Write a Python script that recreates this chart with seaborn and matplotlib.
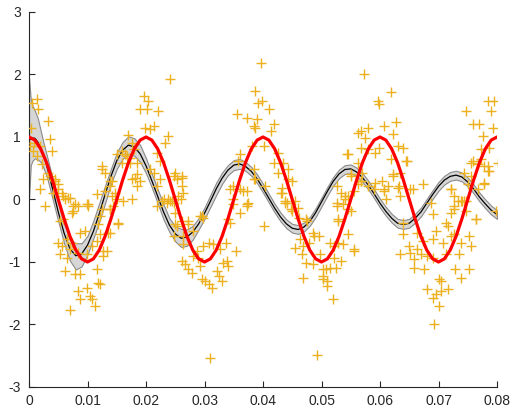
import numpy as np
import pandas as pd
import matplotlib
matplotlib.use('Agg')
import matplotlib.pyplot as plt
import seaborn as sns

sns.set_style('ticks')
plt.rcParams['font.family'] = ['Liberation Sans', 'DejaVu Sans']

# true signal, sampled every 1 ms
red_t_ms = list(range(0, 81))
red_y = [1.0, 0.95, 0.81, 0.59, 0.31, 0.0, -0.31, -0.59, -0.81, -0.95,
         -1.0, -0.95, -0.81, -0.59, -0.31, 0.0, 0.31, 0.59, 0.81, 0.95,
         1.0, 0.95, 0.81, 0.59, 0.31, 0.0, -0.31, -0.59, -0.81, -0.95,
         -1.0, -0.95, -0.81, -0.59, -0.31, 0.0, 0.31, 0.59, 0.81, 0.95,
         1.0, 0.95, 0.81, 0.59, 0.31, 0.0, -0.31, -0.59, -0.81, -0.95,
         -1.0, -0.95, -0.81, -0.59, -0.31, 0.0, 0.31, 0.59, 0.81, 0.95,
         1.0, 0.95, 0.81, 0.59, 0.31, 0.0, -0.31, -0.59, -0.81, -0.95,
         -1.0, -0.95, -0.81, -0.59, -0.31, 0.0, 0.31, 0.59, 0.81, 0.95,
         1.0]

# fitted mean and band
mean_t_ms = [0, 0.3, 0.6, 1, 1.5, 2, 2.5, 3] + list(range(4, 81))
mean_y = [0.95, 0.97, 0.98, 0.98, 0.92, 0.83, 0.70, 0.55,
          0.18, -0.20, -0.54, -0.79, -0.90,
          -0.87, -0.73, -0.51, -0.23, 0.08, 0.37, 0.62, 0.79, 0.87,
          0.84, 0.73, 0.54, 0.30, 0.05, -0.20, -0.41, -0.55, -0.62,
          -0.60, -0.52, -0.39, -0.22, -0.03, 0.17, 0.34, 0.47, 0.55, 0.57,
          0.53, 0.45, 0.33, 0.18, 0.02, -0.14, -0.28, -0.39, -0.46, -0.48,
          -0.44, -0.35, -0.21, -0.04, 0.13, 0.29, 0.41, 0.48, 0.49,
          0.44, 0.35, 0.23, 0.09, -0.06, -0.19, -0.30, -0.38, -0.40,
          -0.38, -0.30, -0.20, -0.06, 0.08, 0.21, 0.31, 0.37, 0.39,
          0.36, 0.28, 0.17, 0.04, -0.07, -0.17, -0.24]
band_hi = [1.00, 0.63, 0.52, 0.44, 0.38, 0.27, 0.20, 0.17,
           0.17, 0.15, 0.15, 0.16, 0.20,
           0.17, 0.15, 0.17, 0.17, 0.14, 0.12, 0.13, 0.13, 0.14,
           0.14, 0.14, 0.12, 0.11, 0.11, 0.12, 0.11, 0.12, 0.15,
           0.12, 0.10, 0.09, 0.09, 0.10, 0.10, 0.09, 0.08, 0.08, 0.08,
           0.07, 0.07, 0.07, 0.07, 0.07, 0.07, 0.07, 0.07, 0.07, 0.07,
           0.07, 0.07, 0.07, 0.07, 0.07, 0.07, 0.07, 0.07, 0.07,
           0.07, 0.07, 0.07, 0.07, 0.07, 0.07, 0.07, 0.07, 0.07,
           0.07, 0.07, 0.07, 0.07, 0.07, 0.07, 0.07, 0.07, 0.07,
           0.07, 0.07, 0.07, 0.07, 0.07, 0.07, 0.07]
band_lo = [0.95, 0.42, 0.36, 0.32, 0.28, 0.23, 0.20, 0.17,
           0.16, 0.15, 0.16, 0.19, 0.22,
           0.20, 0.15, 0.11, 0.13, 0.14, 0.12, 0.13, 0.14, 0.14,
           0.14, 0.13, 0.12, 0.11, 0.11, 0.12, 0.11, 0.12, 0.14,
           0.14, 0.12, 0.09, 0.09, 0.09, 0.10, 0.09, 0.08, 0.08, 0.08,
           0.07, 0.07, 0.07, 0.07, 0.07, 0.07, 0.07, 0.07, 0.07, 0.07,
           0.07, 0.07, 0.07, 0.07, 0.07, 0.07, 0.07, 0.07, 0.07,
           0.07, 0.07, 0.07, 0.07, 0.07, 0.07, 0.07, 0.07, 0.07,
           0.07, 0.07, 0.07, 0.07, 0.07, 0.07, 0.07, 0.07, 0.07,
           0.07, 0.07, 0.07, 0.07, 0.07, 0.07, 0.07]

# observations (t in ms, y)
obs_t_ms = [0.1, 0.3, 0.5, 0.7, 0.9, 1.3, 1.3, 1.5, 1.9, 2.2, 2.4, 3.2, 3.6, 4.0, 1.9, 3.2, 3.6, 4.5, 5.0, 4.1, 5.7, 7.0,
            2.7, 5.3, 5.8, 5.0, 5.6, 5.3, 6.5, 7.4, 7.0, 6.5, 8.4, 6.2, 7.9, 8.7, 7.0, 8.4, 8.7, 9.9, 10.4, 10.8, 11.3,
            11.6, 11.8, 12.2, 9.6, 8.7, 9.9, 10.8, 11.6, 12.2, 12.7, 13.3, 13.5, 12.2, 11.8, 10.1, 7.5, 7.4, 8.4, 15.2,
            13.9, 14.4, 12.7, 12.5, 13.0, 14.2, 14.7, 15.0, 10.1, 7.9,
            17.0, 17.6, 15.0, 15.9, 16.7, 17.9, 18.5, 17.6, 18.5, 19.0, 19.6, 20.4, 20.2, 19.9, 20.7, 21.3, 22.1, 24.1,
            23.8, 23.3, 21.9, 22.4, 21.3, 21.9, 23.0, 24.1, 25.0, 25.3, 26.2, 26.2, 26.4, 25.9, 24.7, 13.9,
            21.9, 23.6, 25.0, 25.3, 26.2, 27.1, 24.7, 26.4, 26.2, 26.7, 27.1, 27.9, 28.1, 28.8, 28.9, 29.3, 29.6, 30.1,
            30.7, 31.3, 32.2, 32.4, 33.0, 33.2, 33.9, 34.1, 32.7, 31.5, 30.7, 29.8, 33.6, 35.3, 34.4, 34.1, 29.8, 29.3,
            34.9, 37.3, 36.1, 28.1, 31.0,
            35.6, 37.3, 38.4, 38.2, 36.1, 35.8, 39.2, 39.6, 38.7, 34.9, 36.1, 37.3, 37.5, 34.9,
            38.7, 39.9, 41.0, 39.0, 41.8, 41.3, 40.1, 42.5, 41.8, 43.5, 44.3, 42.6, 43.3, 44.2, 45.0, 43.0, 43.8, 45.5,
            38.4, 38.4, 40.4,
            54.5, 56.2, 57.2, 58.0, 59.6, 59.8, 61.8, 60.6, 62.7, 62.3, 56.7, 57.5, 56.7, 58.0, 59.2, 59.8, 61.8, 63.0,
            64.0, 64.4, 63.5, 62.3, 63.0, 61.3, 60.4, 60.6, 61.0, 63.5, 65.6, 67.3, 56.7, 56.2, 57.9, 55.5, 54.5, 52.7,
            52.7, 54.1, 58.9, 55.0,
            74.7, 78.4, 79.5, 78.9, 75.9, 76.9, 79.3, 77.6, 78.6, 77.2, 75.5, 77.7, 78.4, 80.1, 76.7, 75.5, 75.0, 77.7,
            76.7, 72.1, 72.6, 73.8, 74.7,
            40.1, 43.8, 44.7, 45.9, 47.3, 48.6, 49.5, 46.4, 45.5, 46.9, 47.8, 46.7, 47.3, 48.5, 46.9, 49.8, 50.2, 50.7,
            51.5, 51.0, 50.2, 51.0, 51.9, 52.1, 53.3, 52.4, 52.9, 53.6, 51.5, 52.1, 54.6, 55.5, 52.9, 53.6, 54.6, 49.3,
            50.2,
            63.9, 64.0, 63.5, 64.9, 65.2, 66.4, 65.8, 67.0, 67.3, 66.4, 65.8, 67.5, 68.1, 69.0, 69.5, 69.0, 70.7, 71.2,
            72.1, 71.7, 72.6, 73.5, 73.8, 75.2, 75.5, 76.4, 72.9, 73.8, 75.2, 70.0, 70.4, 68.1, 69.0, 69.5, 70.4, 71.7,
            70.0, 69.2, 68.7, 72.6, 74.3, 79.8, 72.1,
            52.7, 55.0, 38.7, 43.3, 44.1, 45.0, 46.1, 47.6, 48.7,
            54.4, 55.0, 53.3, 54.1, 52.9, 55.5, 56.7, 56.2, 57.0,
            59.2, 60.6, 62.3, 64.7, 63.2, 65.2, 69.0, 71.2, 72.1, 72.6, 73.3, 74.1, 74.7, 76.4, 74.3, 75.9, 77.7, 77.2,
            78.4, 78.6,
            18.5, 17.3, 20.7, 22.4, 24.7, 26.2, 25.5, 23.8, 22.8, 24.5, 27.1, 25.0, 26.4,
            29.6, 34.4, 36.6, 37.3,
            12.5, 13.9, 15.9, 17.3, 16.4, 18.2, 19.0, 17.6, 16.1, 13.0, 12.5, 13.9, 6.7, 4.5, 5.0, 6.2,
            5.8, 7.5, 9.9, 11.6, 14.2, 15.2, 13.9]
obs_y = [0.85, 1.15, 1.55, 0.78, 0.9, 1.6, 0.7, 1.45, 0.85, 0.56, 0.32, 1.25, 0.96, 0.77, 0.16, 0.43, 0.37, 0.29, 0.24, 0.11, 0.11, 0.03,
         -0.11, -0.35, -0.32, -0.69, -0.75, -0.88, -0.64, -0.69, -0.8, -0.93, -0.85, -1.15, -1.2, -1.2, -1.77, -1.47, -1.6, -1.42, -1.55, -1.6, -1.71,
         -1.12, -1.33, -1.36, -0.51, -0.53, -0.88, -0.75, -0.67, -0.56, -0.83, -0.83, -0.53, -0.27, -0.4, -0.11, -0.11, -0.21, -0.11, -0.4,
         -0.16, -0.11, -0.91, 0.53, 0.43, 0.29, 0.11, 0.0, -0.08, -0.08,
         1.03, 0.91, 0.72, 0.77, 0.69, 0.8, 0.59, 0.32, 0.21, 1.44, 1.65, 1.57, 1.44, 1.15, 1.12, 1.17, 1.41, 1.93,
         1.01, 0.91, 0.75, 0.61, 0.43, 0.21, 0.0, -0.03, 0.43, 0.32, 0.37, 0.21, 0.11, 0.0, -0.05, 0.21,
         -0.11, -0.05, -0.21, -0.43, -0.35, -0.4, -0.59, -0.72, -0.99, -1.04, -1.12, -1.17, -0.91, -0.83, -0.93, -1.07, -1.28, -1.31,
         -1.36, -1.41, -1.15, -1.23, -1.31, -1.01, -0.99, -1.07, -0.8, -0.72, -0.69, -0.75, -0.69, -0.83, -0.37, -0.32, -0.29, -0.27,
         -0.08, -0.08, -0.21, -0.51, -2.54,
         1.36, 1.31, 1.17, 0.85, 0.72, 0.61, 1.55, 2.19, 1.15, 0.21, 0.16, 0.13, -0.05, 0.0,
         1.73, 1.57, 1.44, 1.28, 1.2, 1.09, 0.85, 0.75, 0.59, 0.59, 0.48, 0.43, 0.19, 0.32, 0.29, 0.11, -0.03, -0.03,
         0.48, 0.32, 0.21,
         0.72, 1.07, 2.0, 1.15, 1.57, 1.52, 1.72, 1.17, 1.24, 1.04, 1.09, 0.99, 0.83, 0.8, 0.75, 0.83, 0.64, 0.85,
         0.83, 0.61, 0.43, 0.37, 0.19, 0.21, 0.29, 0.13, 0.0, 0.05, 0.16, 0.24, 0.29, 0.24, 0.21, 0.13, 0.05, 0.21,
         -0.05, 0.0, 0.16, 0.4,
         1.41, 1.57, 1.57, 1.41, 1.2, 1.2, 1.15, 1.01, 0.83, 0.8, 0.59, 0.53, 0.45, 0.59, 0.56, 0.37, 0.24, 0.24,
         0.16, 0.16, 0.05, -0.03, -0.03,
         -0.43, -0.05, -0.16, -0.13, -0.32, -0.53, -0.59, -0.64, -0.77, -0.75, -0.69, -0.88, -1.01, -1.04, -1.25, -0.88, -1.12, -1.12,
         -1.09, -1.31, -1.28, -1.39, -1.6, -0.93, -0.99, -1.09, -0.69, -0.72, -0.69, -0.75, -0.56, -0.83, -0.35, -0.08, -0.16, -2.49,
         -1.23,
         -0.37, -0.56, -0.88, -0.75, -0.85, -0.8, -0.96, -0.88, -0.67, -0.53, -1.09, -1.12, -0.91, -0.93, -0.51, -0.64, -0.69, -0.88,
         -0.59, -0.43, -0.56, -0.88, -0.69, -0.59, -0.75, -0.32, -1.12, -1.25, -1.12, -1.28, -1.31, -1.44, -1.57, -1.52, -1.47, -1.44,
         -1.71, -2.0, -0.05, -0.11, -0.03, -0.19, -0.21,
         -0.11, -0.19, 0.32, 0.11, -0.05, -0.19, -0.29, -0.35, -0.59,
         0.72, 0.37, 0.11, 0.05, -0.32, -0.8, 0.29, 0.59, 0.43,
         0.27, 0.16, 0.4, 0.61, 0.21, 0.16, -0.24, -0.37, 0.16, -0.16, -0.03, -0.03, -0.19, -0.32, 0.43, 0.61, 0.27, 0.64,
         0.53, 0.45,
         0.4, 0.59, 0.48, 0.32, 0.37, 0.35, 0.05, 0.0, -0.03, -0.03, -0.35, -0.4, -0.59,
         -0.27, 0.16, 0.13, -0.11,
         0.48, 0.29, 0.59, 0.67, 0.72, 0.35, 0.29, 0.0, -0.03, 0.13, -0.16, -0.16, 0.03, 0.32, 0.16, 0.0,
         0.05, -0.19, -0.08, 0.08, 0.05, -0.37, -0.53]

red_df = pd.DataFrame({'t': np.array(red_t_ms) / 1000, 'y': red_y})
mean_df = pd.DataFrame({'t': np.array(mean_t_ms) / 1000, 'y': mean_y})
mean_df['hi'] = mean_df['y'] + np.array(band_hi)
mean_df['lo'] = mean_df['y'] - np.array(band_lo)
obs_df = pd.DataFrame({'t': np.array(obs_t_ms) / 1000, 'y': obs_y})

fig, ax = plt.subplots(figsize=(5.11, 4.08), dpi=100)
fig.subplots_adjust(left=0.0568, right=0.9726, bottom=0.0515, top=0.9706)

ax.fill_between(mean_df['t'], mean_df['lo'], mean_df['hi'], facecolor='#d6d6d6',
                edgecolor='#8a8a8a', linewidth=0.8, zorder=1)
sns.lineplot(data=mean_df, x='t', y='y', ax=ax, color='black', linewidth=0.9,
             sort=False, estimator=None, zorder=2)
sns.scatterplot(data=obs_df, x='t', y='y', ax=ax, marker='+', s=48,
                color='#EDB120', linewidth=1.0, zorder=3)
sns.lineplot(data=red_df, x='t', y='y', ax=ax, color='red', linewidth=2.3,
             sort=False, estimator=None, zorder=4)

ax.set_xlim(0, 0.08)
ax.set_ylim(-3, 3)
xt = [0, 0.01, 0.02, 0.03, 0.04, 0.05, 0.06, 0.07, 0.08]
ax.set_xticks(xt)
ax.set_xticklabels(['0', '0.01', '0.02', '0.03', '0.04', '0.05', '0.06', '0.07', '0.08'])
ax.set_yticks([-3, -2, -1, 0, 1, 2, 3])
ax.set_yticklabels(['-3', '-2', '-1', '0', '1', '2', '3'])
ax.set_xlabel('')
ax.set_ylabel('')
ax.tick_params(direction='in', length=4, width=0.8, colors='#262626', labelsize=10)
ax.tick_params(axis='y', pad=6)
ax.tick_params(axis='x', pad=5)
sns.despine(ax=ax)
for s in ['left', 'bottom']:
    ax.spines[s].set_color('#262626')
    ax.spines[s].set_linewidth(0.8)

fig.savefig('out.png', dpi=100)
